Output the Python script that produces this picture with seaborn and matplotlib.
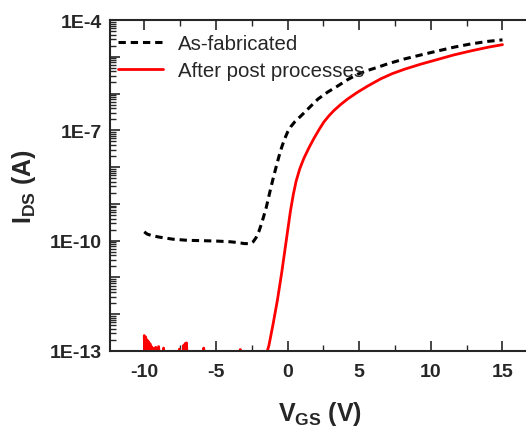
# %% imports

import numpy as np
import pandas as pd
import matplotlib.pyplot as plt
import matplotlib.ticker as mticker
import seaborn as sns

# %% data

vgs_asfab = [-10.0, -9.8, -9.5, -9.0, -8.5, -8.0, -7.0, -6.0, -5.0, -4.0, -3.5, -3.0,
             -2.6, -2.4, -2.2, -2.0, -1.8, -1.5, -1.2, -1.0, -0.8, -0.6, -0.4, -0.2,
             0.0, 0.23, 0.5, 0.93, 1.5, 2.12, 2.8, 3.52, 4.2, 4.92, 5.6, 6.33, 7.0,
             8.15, 9.3, 10.5, 11.6, 12.8, 14.0, 15.0]
log_ids_asfab = [-9.76, -9.82, -9.86, -9.9, -9.93, -9.96, -9.99, -10.0, -10.01, -10.03, -10.05, -10.08,
                 -10.08, -10.03, -9.92, -9.75, -9.52, -9.12, -8.62, -8.3, -8.0, -7.71, -7.45, -7.23,
                 -7.05, -6.9, -6.77, -6.61, -6.39, -6.15, -5.96, -5.79, -5.62, -5.47, -5.37, -5.28, -5.19,
                 -5.06, -4.95, -4.84, -4.74, -4.65, -4.58, -4.54]

vgs_post = [-10.0, -9.95, -9.9, -9.85, -9.8, -9.75, -9.7, -9.65, -9.6, -9.55, -9.5, -9.45,
            -9.4, -9.35, -9.3, -9.25, -9.2, -9.15, -9.1, -9.0, -8.9, -8.8, -8.7, -8.65,
            -8.6, -8.5, -8.2, -7.9, -7.6, -7.55, -7.5, -7.4, -7.3, -7.25, -7.2, -7.15,
            -7.1, -7.05, -7.0, -6.9, -6.6, -6.2, -5.9, -5.85, -5.8, -5.5, -5.0, -4.5,
            -4.0, -3.5, -3.35, -3.3, -3.25, -3.0, -2.5, -2.0, -1.6, -1.45, -1.3, -1.0,
            -0.7, -0.4, -0.2, 0.0, 0.2, 0.4, 0.6, 0.85, 1.14, 1.5, 1.84, 2.2, 2.54,
            2.9, 3.24, 3.7, 4.22, 4.9, 5.62, 6.5, 7.3, 8.15, 9.3, 10.5, 11.6, 12.8,
            14.0, 15.0]
log_ids_post = [-12.58, -13.3, -12.62, -13.3, -12.7, -13.3, -12.75, -13.3, -12.8, -13.3, -12.88, -13.3,
                -12.92, -13.3, -13.3, -13.3, -12.9, -13.3, -13.3, -12.88, -13.3, -13.3, -13.3, -12.92,
                -13.3, -13.3, -13.3, -13.3, -13.3, -12.95, -13.3, -13.3, -13.3, -12.85, -13.3, -12.8,
                -13.3, -12.78, -13.3, -13.3, -13.3, -13.3, -13.3, -12.92, -13.3, -13.3, -13.3, -13.3,
                -13.3, -13.3, -13.3, -12.96, -13.3, -13.3, -13.3, -13.3, -13.3, -13.05, -12.85, -12.25,
                -11.6, -10.85, -10.3, -9.75, -9.2, -8.75, -8.38, -8.05, -7.76, -7.47, -7.22, -6.98, -6.77,
                -6.6, -6.46, -6.3, -6.14, -5.96, -5.79, -5.6, -5.46, -5.34, -5.2, -5.07, -4.95, -4.84,
                -4.74, -4.67]

x_ticks = [-10, -5, 0, 5, 10, 15]
y_labeled = [1e-13, 1e-10, 1e-7, 1e-4]

# %% plot

sns.set_style("ticks")
plt.rcParams['font.family'] = ['Liberation Sans', 'DejaVu Sans']
plt.rcParams['axes.unicode_minus'] = False
plt.rcParams['mathtext.fontset'] = 'custom'
plt.rcParams['mathtext.rm'] = 'Liberation Sans'
plt.rcParams['mathtext.bf'] = 'Liberation Sans:bold'

df_asfab = pd.DataFrame({"VGS": vgs_asfab, "IDS": 10.0 ** np.array(log_ids_asfab)})
df_post = pd.DataFrame({"VGS": vgs_post, "IDS": 10.0 ** np.array(log_ids_post)})

fig = plt.figure(figsize=(5.26, 4.31), dpi=100)
ax = fig.add_axes([110 / 526, 79 / 431, 420 / 526, 331 / 431])

sns.lineplot(data=df_asfab, x="VGS", y="IDS", ax=ax, color="black", lw=2.2,
             linestyle=(0, (2.4, 1.6)), estimator=None, sort=False, label="As-fabricated")
sns.lineplot(data=df_post, x="VGS", y="IDS", ax=ax, color="red", lw=2.0,
             estimator=None, sort=False, label="After post processes")

ax.set_yscale("log")
ax.set_ylim(1e-13, 1e-4)
ax.set_xlim(-12.39, 16.92)

ax.set_xticks(x_ticks)
ax.xaxis.set_minor_locator(mticker.MultipleLocator(2.5))
ax.yaxis.set_major_locator(mticker.LogLocator(base=10, numticks=20))
ax.yaxis.set_minor_locator(mticker.LogLocator(base=10, subs=np.arange(2, 10), numticks=20))
ax.yaxis.set_minor_formatter(mticker.NullFormatter())


def fmt_y(v, pos):
    for t in y_labeled:
        if abs(np.log10(v) - np.log10(t)) < 1e-6:
            return "1E%d" % int(round(np.log10(t)))
    return ""


ax.yaxis.set_major_formatter(mticker.FuncFormatter(fmt_y))

ax.tick_params(axis="both", which="major", direction="in", length=7, width=1.2,
               labelsize=14, top=True)
ax.tick_params(axis="both", which="minor", direction="in", length=4, width=1.0, top=True)
ax.tick_params(axis="x", which="major", pad=9)
ax.tick_params(axis="y", which="major", pad=6)
for lab in ax.get_xticklabels() + ax.get_yticklabels():
    lab.set_fontweight("bold")

for s in ax.spines.values():
    s.set_linewidth(1.5)
ax.spines["right"].set_visible(False)

ax.set_xlabel(r"$\mathbf{V_{GS}}$ (V)", fontsize=18, fontweight="bold", labelpad=13)
ax.set_ylabel(r"$\mathbf{I_{DS}}$ (A)", fontsize=18, fontweight="bold", labelpad=8)

ax.legend(loc="upper left", frameon=False, fontsize=14.7, handlelength=2.2,
          handletextpad=0.73, borderaxespad=0.0, borderpad=0.0, labelspacing=0.4,
          bbox_to_anchor=(0.019, 0.958))

fig.savefig("out.png", dpi=100)
